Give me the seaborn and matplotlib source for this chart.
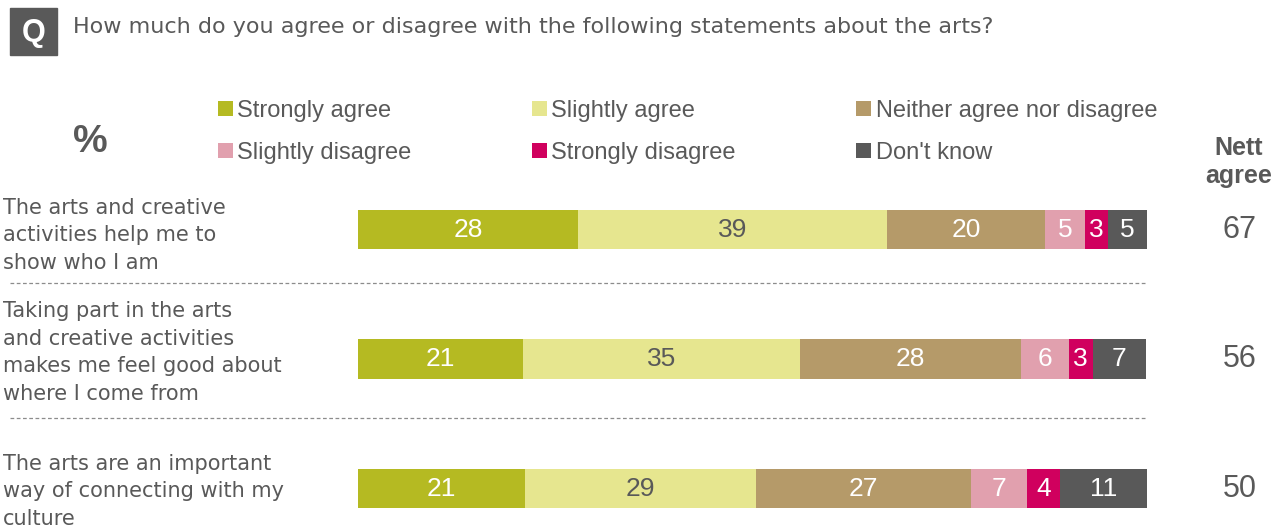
import pandas as pd
import matplotlib.pyplot as plt
import matplotlib.transforms as mtransforms
import seaborn as sns
from matplotlib.patches import Patch, Rectangle
from matplotlib.lines import Line2D

# Data (percent)
statements = [
    "The arts and creative\nactivities help me to\nshow who I am",
    "Taking part in the arts\nand creative activities\nmakes me feel good about\nwhere I come from",
    "The arts are an important\nway of connecting with my\nculture",
]
categories = ["Strongly agree", "Slightly agree", "Neither agree nor disagree",
              "Slightly disagree", "Strongly disagree", "Don't know"]
strongly_agree = [27.9, 20.9, 21.2]
slightly_agree = [39.2, 35.1, 29.3]
neither = [20.0, 28.0, 27.2]
slightly_disagree = [5.1, 6.1, 7.1]
strongly_disagree = [2.8, 3.0, 4.2]
dont_know = [5.1, 6.8, 11.0]
nett_agree = [67, 56, 50]

colors = ["#B5BA22", "#E6E68F", "#B59A69", "#E1A0AE", "#D0005E", "#595959"]
text_colors = ["white", "#595959", "white", "white", "white", "white"]
grey = "#595959"

df = pd.DataFrame({
    "statement": statements,
    categories[0]: strongly_agree,
    categories[1]: slightly_agree,
    categories[2]: neither,
    categories[3]: slightly_disagree,
    categories[4]: strongly_disagree,
    categories[5]: dont_know,
})
cum = df[categories].cumsum(axis=1)

W, H = 1276, 528
fig = plt.figure(figsize=(W / 100, H / 100), dpi=100)
sns.set_style("white")
plt.rcParams["font.family"] = ["Liberation Sans", "DejaVu Sans"]

ax = fig.add_axes([358 / W, 0, 789 / W, 1 - 164.75 / H])

# stacked bars: draw cumulative totals from the last category backwards
for cat, col in reversed(list(zip(categories, colors))):
    sns.barplot(x=cum[cat], y=df["statement"], orient="h", color=col,
                saturation=1, width=0.305, linewidth=0, ax=ax)

ax.set_xlim(0, 100)
ax.set_ylim(2.305, -0.5)
ax.axis("off")

# segment labels
for i in range(len(statements)):
    left = 0
    for cat, tc in zip(categories, text_colors):
        v = df.loc[i, cat]
        ax.text(left + v / 2, i, f"{v:.0f}", ha="center", va="center",
                color=tc, fontsize=19)
        left += v

blend = mtransforms.blended_transform_factory(fig.transFigure, ax.transData)

# nett agree column
for i, v in enumerate(nett_agree):
    ax.text(1240 / W, i, str(v), transform=blend,
            ha="center", va="center", color=grey, fontsize=22)
fig.text(1239 / W, 1 - 162 / H, "Nett\nagree", ha="center", va="center",
         color=grey, fontsize=18, fontweight="bold", linespacing=1.2)

# statement labels (small vertical nudges to sit like the original)
label_nudge = [0.045, -0.05, 0.02]
for i, s in enumerate(statements):
    ax.text(3 / W, i + label_nudge[i], s, transform=blend, ha="left", va="center",
            color=grey, fontsize=15, family="DejaVu Sans", linespacing=1.47)

# dashed separators
for ypx in [283, 418]:
    fig.add_artist(Line2D([10 / W, 1147 / W], [1 - ypx / H] * 2, color="#8c8c8c",
                          lw=0.9, ls=(0, (3, 2))))

# question header
fig.add_artist(Rectangle((10 / W, 1 - 55 / H), 47 / W, 47 / H, color=grey,
                         transform=fig.transFigure))
fig.text(33.5 / W, 1 - 33 / H, "Q", ha="center", va="center", color="white",
         fontsize=22, fontweight="bold")
fig.text(73 / W, 1 - 27 / H,
         "How much do you agree or disagree with the following statements about the arts?",
         ha="left", va="center", color=grey, fontsize=16, family="DejaVu Sans")

fig.text(90 / W, 1 - 142 / H, "%", ha="center", va="center", color=grey,
         fontsize=28, fontweight="bold")

# legend (column-wise fill, 3 columns x 2 rows)
order = [0, 3, 1, 4, 2, 5]
handles = [Patch(facecolor=colors[k], edgecolor="none") for k in order]
labels = [categories[k] for k in order]
fig.legend(handles, labels, ncol=3, loc="upper left",
           bbox_to_anchor=(218 / W, 1 - 100 / H), frameon=False, fontsize=17,
           handlelength=0.62, handleheight=0.62, handletextpad=0.2,
           columnspacing=5.1, labelspacing=0.85, labelcolor=grey,
           borderaxespad=0, borderpad=0)

fig.savefig("out.png", dpi=100)
